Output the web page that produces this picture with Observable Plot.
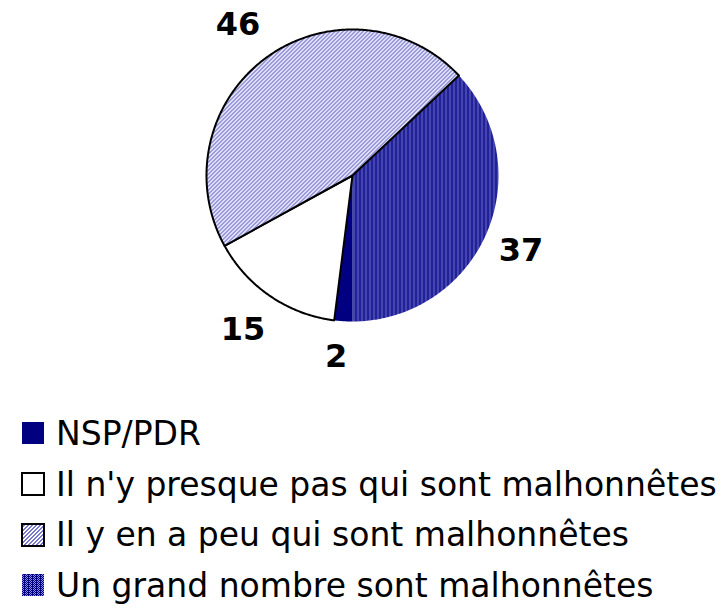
<!DOCTYPE html>
<html><head><meta charset="utf-8">
<script src="https://cdn.jsdelivr.net/npm/d3@7"></script>
<script src="https://cdn.jsdelivr.net/npm/@observablehq/plot@0.6"></script>
<style>
body{margin:0;background:#fff;font-family:"DejaVu Sans",sans-serif;color:#000}
#chart{position:absolute;left:0;top:0}
#legend{position:absolute;left:0;top:408px}
.row{display:flex;align-items:center;height:50.7px;font-size:33px;white-space:nowrap}
.row svg{margin-left:21px;margin-right:11px;flex:none}
</style></head><body>
<div id="chart"></div><div id="legend"></div>
<script>
const categories = ["NSP/PDR", "Il n'y presque pas qui sont malhonnêtes", "Il y en a peu qui sont malhonnêtes", "Un grand nombre sont malhonnêtes"];
const values = [2, 15, 46, 37];
const valueLabels = ["2", "15", "46", "37"];
const palette = ["#000080", "#ffffff", "url(#patPeu)", "url(#patGrand)"];
const outlined = [false, true, true, false];

const arcs = d3.pie().sort(null).startAngle(Math.PI).endAngle(3 * Math.PI)(values);
const slices = arcs.map((a, i) => {
  const pts = [{x: 0, y: 0}];
  const n = Math.max(2, Math.ceil((a.endAngle - a.startAngle) / 0.01));
  for (let k = 0; k <= n; k++) {
    const t = a.startAngle + (a.endAngle - a.startAngle) * k / n;
    pts.push({x: Math.sin(t), y: Math.cos(t)});
  }
  return {i, pts};
});
const labelData = arcs.map((a, i) => {
  const m = (a.startAngle + a.endAngle) / 2;
  const r = 1.24 + 0.06 * Math.abs(Math.sin(m));
  return {label: valueLabels[i], x: r * Math.sin(m), y: r * Math.cos(m)};
});
const drawOrder = [3, 0, 1, 2];

const plot = Plot.plot({
  width: 724, height: 400,
  margin: 0,
  x: {domain: [-1, 1], range: [206, 498], axis: null},
  y: {domain: [-1, 1], range: [321, 29], axis: null},
  marks: [
    ...drawOrder.map(i => Plot.line(slices[i].pts, {
      x: "x", y: "y", curve: "linear-closed",
      fill: palette[i],
      stroke: outlined[i] ? "#000" : "none",
      strokeWidth: 2, strokeLinejoin: "round"
    })),
    Plot.text(labelData, {x: "x", y: "y", text: "label", dx: -5, fontSize: 32, fontWeight: "bold", fill: "#000", fontFamily: "DejaVu Sans"})
  ]
});
const svg = d3.select(plot);
const defs = svg.insert("defs", ":first-child");
const pg = defs.append("pattern").attr("id", "patGrand").attr("patternUnits", "userSpaceOnUse").attr("width", 4).attr("height", 4);
pg.append("rect").attr("width", 4).attr("height", 4).attr("fill", "#000080");
[[0,0],[2,0],[1,1],[3,1],[0,2],[2,2],[1,3],[3,3]].filter((p, k) => k % 4 !== 3).forEach(([x,y]) => pg.append("rect").attr("x", x).attr("y", y).attr("width", 1).attr("height", 1).attr("fill", "#8a8ae0"));
const pp = defs.append("pattern").attr("id", "patPeu").attr("patternUnits", "userSpaceOnUse").attr("width", 4).attr("height", 4);
pp.append("rect").attr("width", 4).attr("height", 4).attr("fill", "#ffffff");
for (let y = 0; y < 4; y++) for (let x = 0; x < 4; x++) if ((x + y) % 4 < 2) pp.append("rect").attr("x", x).attr("y", y).attr("width", 1).attr("height", 1).attr("fill", "#7878d0");
document.getElementById("chart").appendChild(plot);

const legend = d3.select("#legend");
categories.forEach((c, i) => {
  const row = legend.append("div").attr("class", "row");
  const s = row.append("svg").attr("width", 24).attr("height", 24);
  s.append("rect").attr("x", 1).attr("y", 1).attr("width", 22).attr("height", 22)
    .attr("fill", palette[i]).attr("stroke", outlined[i] ? "#000" : "none").attr("stroke-width", 2);
  row.append("span").text(c);
});
</script>
</body></html>
